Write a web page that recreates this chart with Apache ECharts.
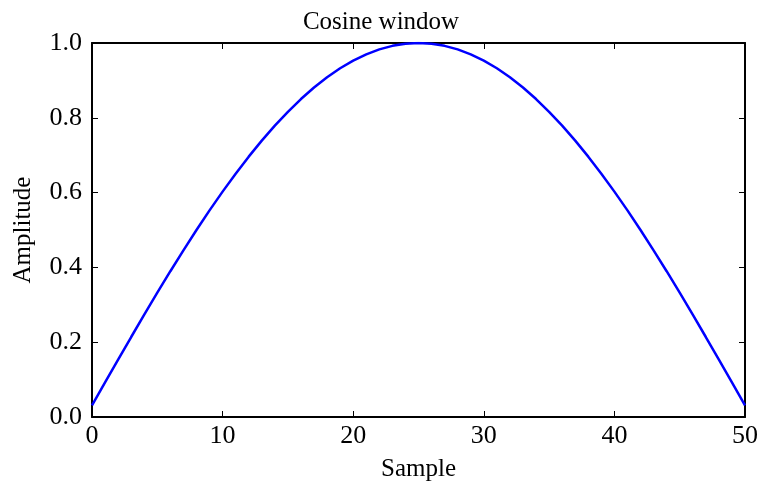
<!DOCTYPE html>
<html><head><meta charset="utf-8">
<script src="https://cdn.jsdelivr.net/npm/echarts@6/dist/echarts.min.js"></script>
<style>html,body{margin:0;padding:0;background:#fff}#c{width:762px;height:489px}</style>
</head><body><div id="c"></div>
<script>
const samples = [0,1,2,3,4,5,6,7,8,9,10,11,12,13,14,15,16,17,18,19,20,21,22,23,24,25,26,27,28,29,30,31,32,33,34,35,36,37,38,39,40,41,42,43,44,45,46,47,48,49,50];
const amplitude = [0.0308,0.0923,0.1534,0.2139,0.2737,0.3324,0.3898,0.4457,0.5000,0.5524,0.6026,0.6506,0.6961,0.7389,0.7789,0.8159,0.8502,0.8811,0.9085,0.9325,0.9529,0.9698,0.9830,0.9924,0.9981,1.0000,
0.9981,0.9924,0.9830,0.9698,0.9529,0.9325,0.9085,0.8811,0.8502,0.8159,0.7789,0.7389,0.6961,0.6506,0.6026,0.5524,0.5000,0.4457,0.3898,0.3324,0.2737,0.2139,0.1534,0.0923,0.0308];
const title = 'Cosine window';
const xName = 'Sample';
const yName = 'Amplitude';

const font = '"Liberation Serif", "DejaVu Serif", serif';
const chart = echarts.init(document.getElementById('c'));
const axLine = {show:true, onZero:false, lineStyle:{color:'#000', width:2}};
const tick = {show:true, inside:true, length:6, lineStyle:{color:'#000', width:1}};
const lbl = {color:'#000', fontFamily:font, fontSize:26};
chart.setOption({
  animation:false,
  title:{text:title, left:'center', top:5, textStyle:{fontFamily:font, fontSize:25, fontWeight:'normal', color:'#000'}},
  grid:{left:92, right:17, top:43, bottom:72, containLabel:false, outerBoundsMode:'none'},
  xAxis:[
    {type:'value', min:0, max:50, interval:10, position:'bottom', axisLine:axLine, axisTick:tick,
     axisLabel:Object.assign({margin:6}, lbl), splitLine:{show:false},
     name:xName, nameLocation:'middle', nameGap:40, nameTextStyle:{fontFamily:font, fontSize:25, color:'#000'}},
    {type:'value', min:0, max:50, interval:10, position:'top', axisLine:axLine, axisTick:tick, axisLabel:{show:false}, splitLine:{show:false}}
  ],
  yAxis:[
    {type:'value', min:0, max:1, interval:0.2, position:'left', axisLine:axLine, axisTick:tick,
     axisLabel:Object.assign({margin:10, formatter:v=>v.toFixed(1)}, lbl), splitLine:{show:false},
     name:yName, nameLocation:'middle', nameGap:56, nameRotate:90, nameTextStyle:{fontFamily:font, fontSize:25, color:'#000'}},
    {type:'value', min:0, max:1, interval:0.2, position:'right', axisLine:axLine, axisTick:tick, axisLabel:{show:false}, splitLine:{show:false}}
  ],
  series:[{type:'line', data:samples.map((s,i)=>[s, amplitude[i]]), showSymbol:false, smooth:false,
    lineStyle:{color:'#0000ff', width:2.5}, z:1}]
});
</script></body></html>
